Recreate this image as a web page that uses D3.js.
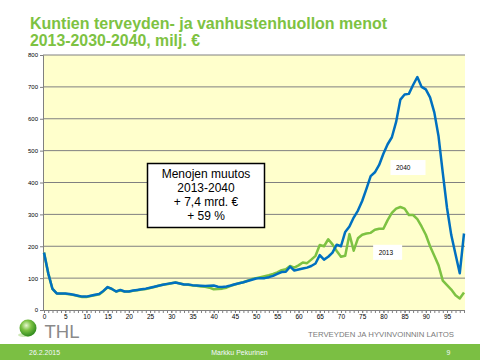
<!DOCTYPE html>
<html><head><meta charset="utf-8">
<script src="https://cdn.jsdelivr.net/npm/d3@7"></script>
<style>
html,body{margin:0;padding:0;background:#fff;}
svg{display:block;font-family:"Liberation Sans",Arial,sans-serif;}
</style></head>
<body>
<svg id="c" width="480" height="360"></svg>
<script>
const titleLines = ["Kuntien terveyden- ja vanhustenhuollon menot", "2013-2030-2040, milj. €"];
const ages = d3.range(0, 100);
const yTicks = [0, 100, 200, 300, 400, 500, 600, 700, 800];
const xTickLabels = [0, 5, 10, 15, 20, 25, 30, 35, 40, 45, 50, 55, 60, 65, 70, 75, 80, 85, 90, 95];
const seriesNames = ["2013", "2040"];
const values2040 = [180,115,66,52,52,52,50,48,45,42,42,45,48,50,60,72,66,58,63,58,
  58,61,63,65,67,70,73,76,79,82,84,86,83,80,80,78,77,76,75,76,
  77,73,72,74,77,81,84,87,91,95,99,100,100,103,107,113,119,120,136,124,
  127,130,133,138,146,172,158,167,180,205,200,245,262,290,312,342,380,420,432,455,
  490,520,542,590,660,676,678,706,731,700,692,667,620,545,430,320,235,175,115,240];
const values2013 = [180,115,66,52,51,51,49,47,44,41,41,44,46,49,59,71,66,58,61,58,
  58,60,62,64,66,69,72,76,79,81,84,86,83,80,79,77,76,74,73,70,
  65,66,67,70,76,80,84,87,92,97,100,103,106,109,113,118,125,128,138,133,
  140,149,147,158,170,204,200,222,206,185,167,170,238,186,225,236,240,242,252,255,
  255,282,305,318,323,318,298,298,285,262,236,200,170,140,92,78,64,46,36,55];
const boxLines = ["Menojen muutos", "2013-2040", "+ 7,4 mrd. €", "+ 59 %"];
const footer = {date: "26.2.2015", author: "Markku  Pekurinen", page: "9"};
const orgName = "TERVEYDEN JA HYVINVOINNIN LAITOS";

const svg = d3.select("#c");
const green = "#7DC242", blue = "#0070C0";

// title
svg.append("g").selectAll("text").data(titleLines).join("text")
  .attr("x", 30).attr("y", (d, i) => 28.5 + i * 17)
  .attr("fill", green).attr("font-weight", "bold").attr("font-size", 16)
  .attr("textLength", (d, i) => i === 0 ? 357 : 170).attr("lengthAdjust", "spacingAndGlyphs")
  .text(d => d);

const x = d3.scaleLinear().domain([0, 99]).range([44, 464]);
const y = d3.scaleLinear().domain([0, 800]).range([310, 55]);

// plot background
svg.append("rect").attr("x", 43).attr("y", y(800)).attr("width", 465 - 43).attr("height", y(0) - y(800)).attr("fill", "#FFFFCC");

// gridlines
svg.append("g").selectAll("line").data(yTicks.filter(d => d > 0)).join("line")
  .attr("x1", 43).attr("x2", 465).attr("y1", d => y(d)).attr("y2", d => y(d))
  .attr("stroke", "#808080").attr("stroke-width", 1);

// y axis
const yAxis = svg.append("g").attr("transform", "translate(43,0)")
  .call(d3.axisLeft(y).tickValues(yTicks).tickSize(3).tickPadding(2));
yAxis.select(".domain").attr("stroke", "#808080");
yAxis.selectAll(".tick line").attr("stroke", "#808080");
yAxis.selectAll("text").attr("font-size", 6).attr("fill", "#000").attr("font-family", "Liberation Sans,Arial");

// x axis: minor ticks at every age, labels every 5
const xMinor = svg.append("g").attr("transform", "translate(0,310)")
  .call(d3.axisBottom(x).tickValues(ages).tickSize(3).tickFormat(""));
xMinor.selectAll(".tick text").remove();
xMinor.select(".domain").attr("stroke", "#808080").attr("d", "M43,0.5H465");
xMinor.selectAll(".tick line").attr("stroke", "#808080");
const xLab = svg.append("g").attr("transform", "translate(0,310)")
  .call(d3.axisBottom(x).tickValues(xTickLabels).tickSize(3).tickPadding(1.5));
xLab.select(".domain").remove();
xLab.selectAll(".tick line").attr("stroke", "#808080");
xLab.selectAll("text").attr("font-size", 6.5).attr("fill", "#000").attr("font-family", "Liberation Sans,Arial");

// lines
const line = d3.line().x((d, i) => x(ages[i])).y(d => y(d));
svg.append("path").datum(values2013).attr("d", line).attr("fill", "none")
  .attr("stroke", green).attr("stroke-width", 2.5).attr("stroke-linejoin", "round");
svg.append("path").datum(values2040).attr("d", line).attr("fill", "none")
  .attr("stroke", blue).attr("stroke-width", 2.5).attr("stroke-linejoin", "round");

// series labels
const labelPos = [{name: seriesNames[1], age: 85.8, v: 447, w: 35}, {name: seriesNames[0], age: 81, v: 181, w: 29}];
labelPos.forEach(l => {
  const g = svg.append("g").attr("transform", `translate(${x(l.age)},${y(l.v)})`);
  g.append("rect").attr("x", -l.w / 2).attr("y", -7.5).attr("width", l.w).attr("height", 15).attr("fill", "#fff");
  g.append("text").attr("x", l.w === 35 ? -12 : -9).attr("y", 2.5).attr("font-size", 6.5).attr("fill", "#000").text(l.name);
});

// text box
const bx = svg.append("g");
bx.append("rect").attr("x", 147.5).attr("y", 163.5).attr("width", 117).attr("height", 64)
  .attr("fill", "#fff").attr("stroke", "#000").attr("stroke-width", 1.5);
bx.selectAll("text").data(boxLines).join("text")
  .attr("x", 206).attr("y", (d, i) => 177.5 + i * 14.2).attr("text-anchor", "middle")
  .attr("font-size", 12).attr("fill", "#000").text(d => d);

// logo
const defs = svg.append("defs");
const rg = defs.append("radialGradient").attr("id", "glob").attr("cx", "40%").attr("cy", "35%").attr("r", "65%");
rg.append("stop").attr("offset", "0%").attr("stop-color", "#e8f7d0");
rg.append("stop").attr("offset", "45%").attr("stop-color", "#7cc242");
rg.append("stop").attr("offset", "100%").attr("stop-color", "#2f8a1e");
svg.append("ellipse").attr("cx", 25).attr("cy", 335).attr("rx", 7).attr("ry", 2).attr("fill", "#cfe8b8");
svg.append("circle").attr("cx", 28).attr("cy", 328).attr("r", 8.5).attr("fill", "url(#glob)");
svg.append("text").attr("x", 44.5).attr("y", 337.5).attr("font-size", 18).attr("fill", "#8a8a8a")
  .attr("textLength", 35).attr("lengthAdjust", "spacingAndGlyphs").text("THL");
svg.append("text").attr("x", 308).attr("y", 337).attr("font-size", 7.5).attr("fill", "#7a7a7a")
  .attr("textLength", 146).attr("lengthAdjust", "spacingAndGlyphs").text(orgName);

// footer bar
svg.append("rect").attr("x", 0).attr("y", 344).attr("width", 480).attr("height", 16).attr("fill", "#7BBF43");
svg.append("text").attr("x", 29).attr("y", 354.5).attr("font-size", 7).attr("fill", "#f4f8ff").text(footer.date);
svg.append("text").attr("x", 239.5).attr("y", 354.5).attr("font-size", 7).attr("fill", "#f4f8ff").attr("text-anchor", "middle").text(footer.author);
svg.append("text").attr("x", 448.5).attr("y", 354.5).attr("font-size", 7).attr("fill", "#f4f8ff").attr("text-anchor", "middle").text(footer.page);
</script>
</body></html>
